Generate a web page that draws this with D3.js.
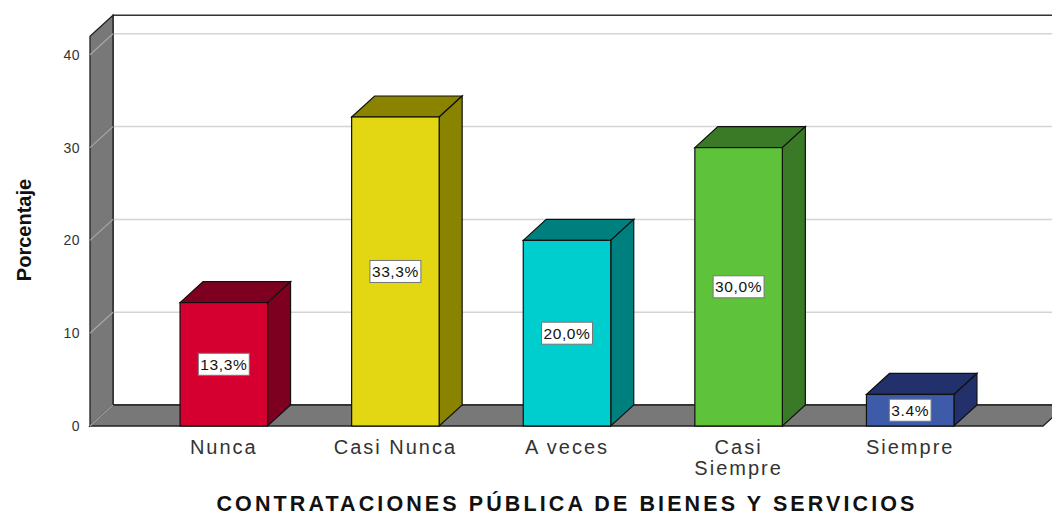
<!DOCTYPE html>
<html>
<head>
<meta charset="utf-8">
<script src="https://cdn.jsdelivr.net/npm/d3@7"></script>
<style>
  body { margin: 0; background: #fff; }
  text { font-family: "Liberation Sans", Arial, sans-serif; }
</style>
</head>
<body>
<div id="vis"></div>
<script>
// chart data
var categories = ["Nunca", "Casi Nunca", "A veces", "Casi Siempre", "Siempre"];
var percentages = [13.3, 33.3, 20.0, 30.0, 3.4];
var valueLabels = ["13,3%", "33,3%", "20,0%", "30,0%", "3.4%"];
var frontColors = ["#d5002f", "#e3d612", "#00cdcd", "#5ec23b", "#3d5ba8"];
var darkColors = ["#7d0020", "#8a8300", "#007f7f", "#3a7926", "#22306b"];
var yTicks = [0, 10, 20, 30, 40];

var width = 1052, height = 516;
var depthX = 23, depthY = -21;   // 3d offset
var left = 90, floorRight = 1043;

var svg = d3.select("#vis").append("svg")
    .attr("width", width)
    .attr("height", height);

var y = d3.scaleLinear().domain([0, 40]).range([426, 54.8]);
var wallTop = 42;

var x = d3.scaleBand()
    .domain(categories)
    .range([138, 996])
    .paddingInner(0.49)
    .paddingOuter(0.245);

function pts(a) { return a.map(function(p) { return p.join(","); }).join(" "); }

// back wall
svg.append("rect")
    .attr("x", left + depthX)
    .attr("y", y(wallTop) + depthY)
    .attr("width", width + 20 - left - depthX)
    .attr("height", y(0) - y(wallTop))
    .attr("fill", "#fff")
    .attr("stroke", "#333")
    .attr("stroke-width", 1.5);

// grid lines on back wall
svg.append("g").selectAll("line")
    .data(yTicks.filter(function(d) { return d > 0; }))
    .enter().append("line")
    .attr("x1", left + depthX)
    .attr("x2", width)
    .attr("y1", function(d) { return y(d) + depthY; })
    .attr("y2", function(d) { return y(d) + depthY; })
    .attr("stroke", "#d4d4d4")
    .attr("stroke-width", 1.5);

// side wall
svg.append("polygon")
    .attr("points", pts([[left, y(0)], [left, y(wallTop)], [left + depthX, y(wallTop) + depthY], [left + depthX, y(0) + depthY]]))
    .attr("fill", "#787878")
    .attr("stroke", "#222")
    .attr("stroke-width", 1.3);

// floor
svg.append("polygon")
    .attr("points", pts([[left, y(0)], [left + depthX, y(0) + depthY], [floorRight + depthX, y(0) + depthY], [floorRight, y(0)]]))
    .attr("fill", "#787878")
    .attr("stroke", "#222")
    .attr("stroke-width", 1.3);

// grid lines on side wall
svg.append("g").selectAll("line")
    .data(yTicks)
    .enter().append("line")
    .attr("x1", left)
    .attr("x2", left + depthX)
    .attr("y1", function(d) { return y(d); })
    .attr("y2", function(d) { return y(d) + depthY; })
    .attr("stroke", "#a8a8a8")
    .attr("stroke-width", 1.2);

// y tick labels
svg.append("g").selectAll("text")
    .data(yTicks)
    .enter().append("text")
    .attr("x", 80)
    .attr("y", function(d) { return y(d) + 5; })
    .attr("text-anchor", "end")
    .attr("font-size", 14)
    .attr("letter-spacing", 0.5)
    .attr("fill", "#333")
    .text(function(d) { return d; });

// bars
var bars = svg.append("g").selectAll("g")
    .data(categories)
    .enter().append("g");

bars.append("polygon")   // top
    .attr("points", function(d, i) {
        var x0 = x(d), x1 = x(d) + x.bandwidth(), yt = y(percentages[i]);
        return pts([[x0, yt], [x0 + depthX, yt + depthY], [x1 + depthX, yt + depthY], [x1, yt]]);
    })
    .attr("fill", function(d, i) { return darkColors[i]; })
    .attr("stroke", "#111")
    .attr("stroke-width", 1.2);

bars.append("polygon")   // side
    .attr("points", function(d, i) {
        var x1 = x(d) + x.bandwidth(), yt = y(percentages[i]);
        return pts([[x1, yt], [x1 + depthX, yt + depthY], [x1 + depthX, y(0) + depthY], [x1, y(0)]]);
    })
    .attr("fill", function(d, i) { return darkColors[i]; })
    .attr("stroke", "#111")
    .attr("stroke-width", 1.2);

bars.append("rect")      // front
    .attr("x", function(d) { return x(d); })
    .attr("y", function(d, i) { return y(percentages[i]); })
    .attr("width", x.bandwidth())
    .attr("height", function(d, i) { return y(0) - y(percentages[i]); })
    .attr("fill", function(d, i) { return frontColors[i]; })
    .attr("stroke", "#111")
    .attr("stroke-width", 1.2);

// value labels
bars.each(function(d, i) {
    var g = d3.select(this);
    var cx = x(d) + x.bandwidth() / 2;
    var cy = (y(percentages[i]) + y(0)) / 2;
    var box = g.append("rect").attr("fill", "#fff").attr("stroke", "#777").attr("stroke-width", 1);
    var t = g.append("text")
        .attr("x", cx)
        .attr("y", cy + 5.5)
        .attr("text-anchor", "middle")
        .attr("font-size", 15.5)
        .attr("letter-spacing", 0.6)
        .attr("fill", "#111")
        .text(valueLabels[i]);
    var w = t.node().getComputedTextLength() + 4;
    box.attr("x", cx - w / 2).attr("y", cy - 11).attr("width", w).attr("height", 22);
});

// x tick labels
svg.append("g").selectAll("text")
    .data(categories)
    .enter().append("text")
    .attr("x", function(d) { return x(d) + x.bandwidth() / 2; })
    .attr("y", 454)
    .attr("text-anchor", "middle")
    .attr("font-size", 20)
    .attr("letter-spacing", 2)
    .attr("fill", "#333")
    .each(function(d) {
        var words = d === "Casi Siempre" ? ["Casi", "Siempre"] : [d];
        var t = d3.select(this);
        words.forEach(function(w, k) {
            t.append("tspan")
                .attr("x", t.attr("x"))
                .attr("dy", k === 0 ? 0 : 21)
                .text(w);
        });
    });

// axis titles
svg.append("text")
    .attr("x", 567)
    .attr("y", 511)
    .attr("text-anchor", "middle")
    .attr("font-size", 21.5)
    .attr("letter-spacing", 3.1)
    .attr("font-weight", "bold")
    .attr("fill", "#111")
    .text("CONTRATACIONES PÚBLICA DE BIENES Y SERVICIOS");

svg.append("text")
    .attr("transform", "translate(31,230) rotate(-90)")
    .attr("text-anchor", "middle")
    .attr("font-family", "'Liberation Sans Narrow', 'Liberation Sans', sans-serif")
    .attr("font-size", 20)
    .attr("font-weight", "bold")
    .attr("fill", "#111")
    .text("Porcentaje");
</script>
</body>
</html>
